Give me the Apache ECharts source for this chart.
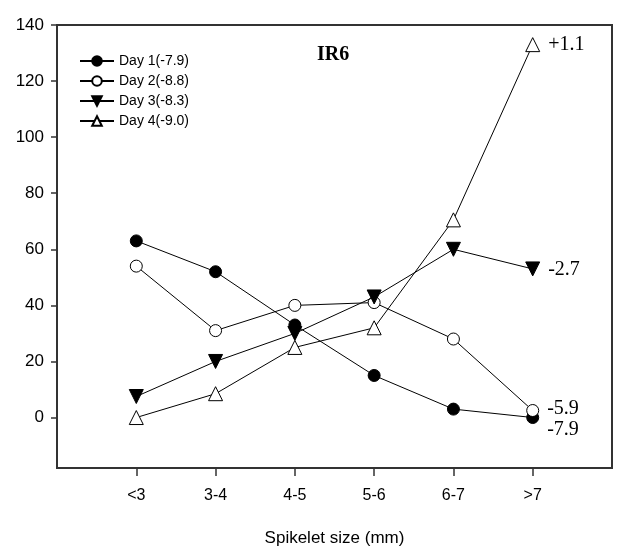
<!DOCTYPE html>
<html>
<head>
<meta charset="utf-8">
<script src="https://cdn.jsdelivr.net/npm/echarts@6/dist/echarts.min.js"></script>
<style>
  html, body { margin: 0; padding: 0; background: #fff; }
  #chart { width: 622px; height: 555px; }
</style>
</head>
<body>
<div id="chart"></div>
<script>
// spikelet size classes
const categories = ['<3', '3-4', '4-5', '5-6', '6-7', '>7']
const yTicks = [0, 20, 40, 60, 80, 100, 120, 140]

const day1 = [63, 52, 33, 15, 3, 0]
const day2 = [54, 31, 40, 41, 28, 2.5]
const day3 = [7.5, 20, 30, 43, 60, 53]
const day4 = [0, 8.5, 25, 32, 70.5, 133]

const seriesNames = ['Day 1(-7.9)', 'Day 2(-8.8)', 'Day 3(-8.3)', 'Day 4(-9.0)']
const endLabels = ['-7.9', '-5.9', '-2.7', '+1.1']

var chart = echarts.init(document.getElementById('chart'), null, { renderer: 'canvas' })

const SANS = '"Liberation Sans", Arial, sans-serif'
const SERIF = '"Liberation Serif", "Times New Roman", serif'

function makeSeries(idx, values, symbol, filled, rotate, size, labelOffset) {
  var data = values.map((v, i) => {
    var item = { value: [i, v] }
    if (i === values.length - 1) {
      item.label = {
        show: true,
        position: 'right',
        distance: 8,
        formatter: endLabels[idx],
        color: '#000',
        fontFamily: SERIF,
        fontSize: 20,
        offset: labelOffset
      }
    }
    return item
  })
  return {
    name: seriesNames[idx],
    type: 'line',
    data: data,
    symbol: symbol,
    symbolSize: size,
    symbolRotate: rotate,
    showAllSymbol: true,
    lineStyle: { color: '#000', width: 1 },
    itemStyle: {
      color: filled ? '#000' : '#fff',
      borderColor: '#000',
      borderWidth: 1
    },
    emphasis: { disabled: true },
    z: 2 + idx
  }
}

var option = {
  backgroundColor: '#fff',
  animation: false,
  title: {
    text: 'IR6',
    left: 312,
    top: 40,
    textStyle: { fontFamily: SERIF, fontWeight: 'bold', fontSize: 20, color: '#000' }
  },
  legend: {
    orient: 'vertical',
    left: 74,
    top: 49,
    itemWidth: 34,
    itemHeight: 12,
    itemGap: 6,
    textStyle: { fontFamily: SANS, fontSize: 14, color: '#000' },
    data: seriesNames
  },
  grid: {
    left: 57,
    right: 10,
    top: 25,
    bottom: 87,
    show: true,
    borderColor: '#333',
    borderWidth: 2,
    backgroundColor: 'transparent'
  },
  xAxis: {
    type: 'value',
    min: -1,
    max: 6,
    name: 'Spikelet size (mm)',
    nameLocation: 'middle',
    nameGap: 62,
    nameTextStyle: { fontFamily: SANS, fontSize: 17, color: '#000' },
    splitLine: { show: false },
    axisLine: { show: true, onZero: false, lineStyle: { color: '#333', width: 2 } },
    axisTick: {
      show: true,
      inside: false,
      length: 8,
      customValues: [0, 1, 2, 3, 4, 5],
      lineStyle: { color: '#333', width: 1.5 }
    },
    axisLabel: {
      customValues: [0, 1, 2, 3, 4, 5],
      formatter: v => categories[v],
      margin: 20,
      fontFamily: SANS,
      fontSize: 16,
      color: '#000'
    }
  },
  yAxis: {
    type: 'value',
    min: -18,
    max: 140,
    splitLine: { show: false },
    axisLine: { show: true, onZero: false, lineStyle: { color: '#333', width: 2 } },
    axisTick: {
      show: true,
      inside: false,
      length: 6,
      customValues: yTicks,
      lineStyle: { color: '#333', width: 1.5 }
    },
    axisLabel: {
      customValues: yTicks,
      margin: 13,
      fontFamily: SANS,
      fontSize: 17,
      color: '#000'
    }
  },
  series: [
    makeSeries(0, day1, 'circle', true, 0, 12, [0, 12]),
    makeSeries(1, day2, 'circle', false, 0, 12, [0, -2]),
    makeSeries(2, day3, 'triangle', true, 180, 14, [0, 1]),
    makeSeries(3, day4, 'triangle', false, 0, 14, [0, 0])
  ]
}

chart.setOption(option)
</script>
</body>
</html>
